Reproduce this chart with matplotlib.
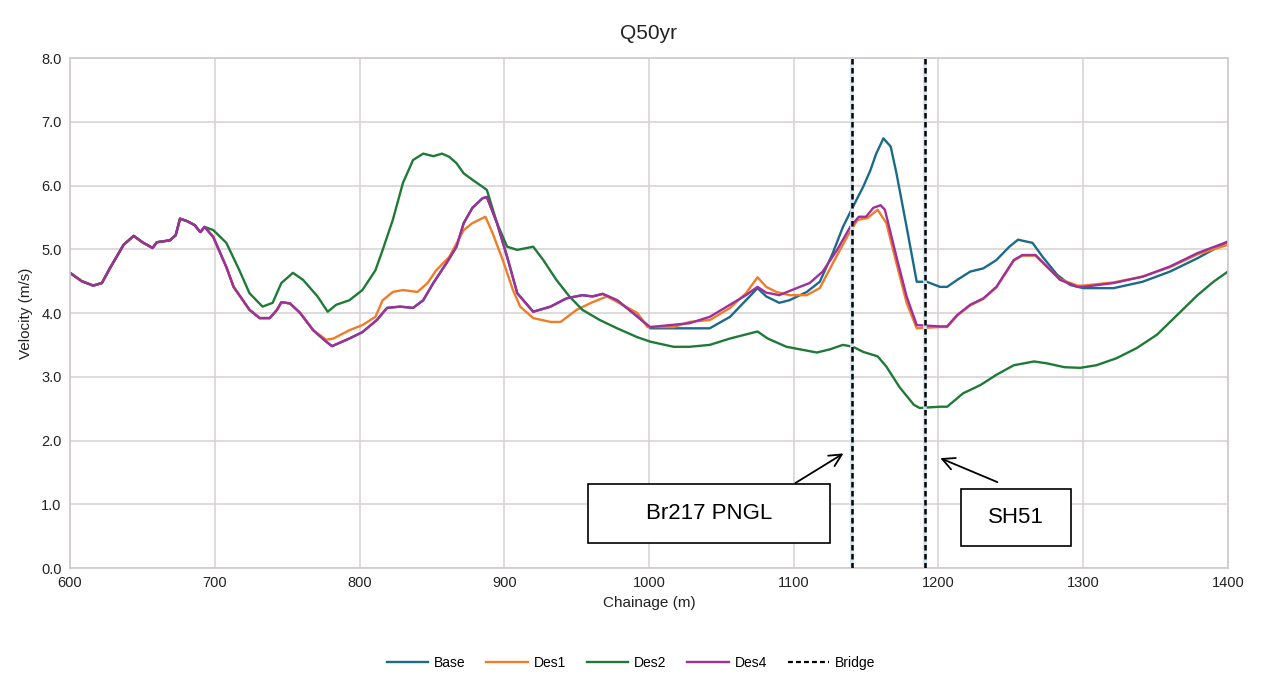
import matplotlib
matplotlib.use("Agg")
import matplotlib.pyplot as plt
from matplotlib.patches import Rectangle
from matplotlib.lines import Line2D

plt.rcParams['font.family'] = ['Liberation Sans', 'DejaVu Sans']

# ---- data ----
# shared upstream section (all scenarios identical)
ch_up = [600, 608, 616, 622, 628, 637, 644, 650, 657, 660, 669, 673, 676, 681, 686, 690, 693]
v_up = [4.63, 4.50, 4.43, 4.47, 4.72, 5.07, 5.21, 5.11, 5.02, 5.11, 5.14, 5.22, 5.48, 5.44, 5.38, 5.27, 5.35]

# Des4 (also underlies Base and Des1 where they coincide)
ch_des4 = [699, 708, 713, 724, 731, 738, 743, 746, 752, 759, 768, 777, 781, 793, 802, 812, 819,
           828, 837, 844, 851, 860, 867, 872, 878, 885, 888, 895, 902, 909, 920, 932, 943, 954,
           961, 968, 978, 989, 999, 1001, 1028, 1042, 1056, 1067, 1075, 1081, 1090, 1102, 1111,
           1120, 1130, 1139, 1145, 1150, 1155, 1160, 1163, 1171, 1178, 1185, 1201, 1206, 1213,
           1222, 1231, 1240, 1252, 1258, 1267, 1275, 1284, 1296, 1300, 1321, 1341, 1360, 1379, 1400]
v_des4 = [5.19, 4.72, 4.41, 4.05, 3.92, 3.92, 4.05, 4.17, 4.15, 4.00, 3.73, 3.55, 3.48, 3.60, 3.70,
          3.89, 4.08, 4.10, 4.08, 4.20, 4.47, 4.78, 5.04, 5.41, 5.65, 5.80, 5.82, 5.41, 4.88, 4.31,
          4.02, 4.10, 4.23, 4.28, 4.26, 4.30, 4.20, 4.00, 3.81, 3.78, 3.84, 3.94, 4.13, 4.28, 4.41,
          4.32, 4.28, 4.39, 4.47, 4.65, 4.99, 5.35, 5.51, 5.51, 5.65, 5.69, 5.62, 4.88, 4.26, 3.81,
          3.79, 3.79, 3.97, 4.13, 4.23, 4.41, 4.83, 4.91, 4.91, 4.73, 4.52, 4.41, 4.41, 4.47, 4.57,
          4.73, 4.94, 5.12]

# Des1 (same as Des4 up to ~770 m)
ch_des1 = [777, 782, 793, 802, 811, 816, 823, 830, 840, 847, 853, 862, 872, 878, 887, 892, 899,
           906, 911, 920, 932, 939, 950, 961, 971, 980, 992, 999, 1017, 1028, 1042, 1056, 1067,
           1075, 1081, 1088, 1097, 1109, 1118, 1127, 1137, 1144, 1151, 1158, 1164, 1171, 1178,
           1185, 1201, 1206, 1213, 1222, 1231, 1240, 1252, 1258, 1267, 1275, 1284, 1296, 1300,
           1321, 1341, 1360, 1379, 1400]
v_des1 = [3.58, 3.60, 3.73, 3.81, 3.94, 4.20, 4.33, 4.36, 4.33, 4.47, 4.67, 4.88, 5.30, 5.41, 5.51,
          5.25, 4.83, 4.36, 4.10, 3.92, 3.86, 3.86, 4.05, 4.17, 4.26, 4.15, 4.00, 3.78, 3.78, 3.86,
          3.89, 4.08, 4.31, 4.56, 4.41, 4.33, 4.28, 4.28, 4.39, 4.78, 5.20, 5.46, 5.49, 5.62, 5.41,
          4.78, 4.16, 3.76, 3.78, 3.78, 3.96, 4.12, 4.22, 4.40, 4.82, 4.90, 4.90, 4.72, 4.53, 4.43,
          4.43, 4.48, 4.57, 4.72, 4.92, 5.07]

# Base (same as Des4 up to ~1000 m)
ch_base = [1001, 1017, 1042, 1056, 1067, 1075, 1081, 1090, 1097, 1109, 1118, 1127, 1134, 1141,
           1148, 1153, 1157, 1162, 1167, 1171, 1178, 1185, 1192, 1201, 1206, 1213, 1222, 1231,
           1240, 1249, 1255, 1265, 1272, 1282, 1291, 1300, 1321, 1341, 1360, 1379, 1400]
v_base = [3.76, 3.76, 3.76, 3.94, 4.20, 4.39, 4.26, 4.16, 4.20, 4.33, 4.49, 4.94, 5.35, 5.67,
          5.98, 6.24, 6.50, 6.74, 6.61, 6.19, 5.35, 4.49, 4.49, 4.41, 4.41, 4.52, 4.65, 4.70,
          4.83, 5.04, 5.15, 5.10, 4.88, 4.60, 4.44, 4.39, 4.39, 4.49, 4.65, 4.86, 5.12]

# Des2
ch_des2 = [699, 708, 717, 724, 733, 740, 746, 754, 761, 771, 778, 784, 793, 802, 811, 816, 823,
           830, 837, 844, 851, 857, 862, 867, 872, 878, 885, 888, 895, 902, 909, 920, 927, 936,
           945, 954, 966, 978, 992, 1001, 1017, 1028, 1042, 1056, 1075, 1082, 1095, 1116, 1125,
           1134, 1141, 1148, 1158, 1164, 1173, 1183, 1187, 1201, 1206, 1217, 1229, 1240, 1252,
           1266, 1275, 1287, 1298, 1309, 1323, 1337, 1351, 1365, 1379, 1390, 1400]
v_des2 = [5.30, 5.10, 4.67, 4.31, 4.10, 4.16, 4.47, 4.63, 4.52, 4.26, 4.02, 4.13, 4.20, 4.36, 4.67,
          4.99, 5.46, 6.04, 6.40, 6.50, 6.46, 6.50, 6.45, 6.35, 6.19, 6.09, 5.98, 5.93, 5.41, 5.04,
          4.99, 5.04, 4.83, 4.52, 4.26, 4.05, 3.89, 3.76, 3.62, 3.55, 3.47, 3.47, 3.50, 3.60, 3.71,
          3.60, 3.47, 3.38, 3.43, 3.50, 3.47, 3.39, 3.32, 3.16, 2.84, 2.56, 2.51, 2.53, 2.53, 2.74,
          2.87, 3.03, 3.18, 3.24, 3.21, 3.15, 3.14, 3.18, 3.29, 3.45, 3.66, 3.97, 4.28, 4.49, 4.65]

bridges = [1140, 1191]
bridge_labels = ["Br217 PNGL", "SH51"]

# ---- assemble series ----
def seg(ch, v, lo, hi):
    return [c for c in ch if lo <= c <= hi], [y for c, y in zip(ch, v) if lo <= c <= hi]

d4x, d4y = ch_up + ch_des4, v_up + v_des4
a, b = seg(d4x, d4y, 0, 770)
d1x, d1y = a + ch_des1, b + v_des1
a, b = seg(d4x, d4y, 0, 999)
bx, by = a + ch_base, b + v_base
d2x, d2y = ch_up + ch_des2, v_up + v_des2

colors = {"Base": "#1b6a8a", "Des1": "#f07c28", "Des2": "#1f7a37", "Des4": "#9e2f9b"}

fig = plt.figure(figsize=(12.62, 6.80), dpi=100)
ax = fig.add_axes([0.0555, 0.1647, 0.9175, 0.75])

kw = dict(lw=1.7, solid_joinstyle="round", solid_capstyle="round")
ax.plot(bx, by, color=colors["Base"], label="Base", **kw)
ax.plot(d1x, d1y, color=colors["Des1"], label="Des1", **kw)
ax.plot(d2x, d2y, color=colors["Des2"], label="Des2", **kw)
ax.plot(d4x, d4y, color=colors["Des4"], label="Des4", **kw)
for i, bx_ in enumerate(bridges):
    ax.axvline(bx_, color="#cfe2ee", lw=2.6, zorder=4)
    ax.axvline(bx_, color="black", lw=1.8, ls=(0, (2.2, 1.4)), zorder=5,
               label="Bridge" if i == 0 else None)

ax.set_xlim(600, 1400)
ax.set_ylim(0, 8)
ax.set_xticks(range(600, 1401, 100))
ax.set_yticks([i for i in range(0, 9)])
ax.set_yticklabels([f"{i:.1f}" for i in range(0, 9)])
ax.tick_params(length=0, labelsize=10.5, colors="#222222", pad=6)
ax.grid(True, color="#d9d4d4", lw=1.2)
for s in ax.spines.values():
    s.set_color("#d0caca")
    s.set_linewidth(1.2)
ax.set_xlabel("Chainage (m)", fontsize=11, color="#222222", labelpad=4)
ax.set_ylabel("Velocity (m/s)", fontsize=11, color="#222222", labelpad=6)
ax.set_title("Q50yr", fontsize=15, color="#222222", pad=14)

# annotation boxes
ax.add_patch(Rectangle((958, 0.39), 167, 0.93, facecolor="white", edgecolor="black", lw=1.2, zorder=6))
ax.text(1041.5, 0.855, bridge_labels[0], ha="center", va="center", fontsize=16, zorder=7)
ax.annotate("", xy=(1136, 1.82), xytext=(1099.5, 1.31),
            arrowprops=dict(arrowstyle="->", color="black", lw=1.3, mutation_scale=22), zorder=7)

ax.add_patch(Rectangle((1215.5, 0.345), 76, 0.895, facecolor="white", edgecolor="black", lw=1.2, zorder=6))
ax.text(1253.5, 0.79, bridge_labels[1], ha="center", va="center", fontsize=16, zorder=7)
ax.annotate("", xy=(1199.5, 1.74), xytext=(1242.5, 1.33),
            arrowprops=dict(arrowstyle="->", color="black", lw=1.3, mutation_scale=22), zorder=7)

handles = [Line2D([], [], color=colors[k], lw=1.7) for k in ["Base", "Des1", "Des2", "Des4"]]
handles.append(Line2D([], [], color="black", lw=1.6, ls=(0, (2.2, 1.4))))
fig.legend(handles, ["Base", "Des1", "Des2", "Des4", "Bridge"], loc="center",
           bbox_to_anchor=(0.5, 0.025), ncol=5, frameon=False, fontsize=10,
           handlelength=3.0, columnspacing=1.5, handletextpad=0.4)

fig.savefig("out.png", dpi=100, facecolor="white")
